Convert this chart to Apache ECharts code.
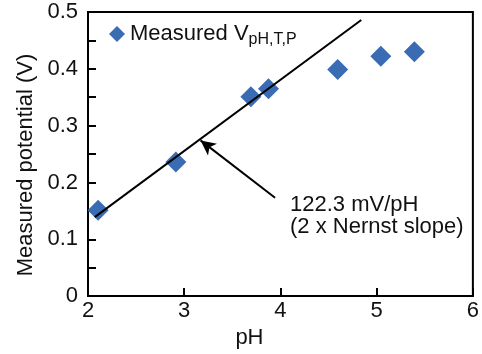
<!DOCTYPE html>
<html>
<head>
<meta charset="utf-8">
<script src="https://cdn.jsdelivr.net/npm/echarts@6/dist/echarts.min.js"></script>
<style>
  html, body { margin: 0; padding: 0; background: #fff; }
  #chart { width: 482px; height: 354px; }
</style>
</head>
<body>
<div id="chart"></div>
<script>
// measured points
const phValues = [2.105, 2.913, 3.693, 3.876, 4.595, 5.043, 5.392];
const potentials = [0.151, 0.236, 0.351, 0.365, 0.399, 0.422, 0.430];

// 122.3 mV/pH line end points
const fitPh = [2.07, 4.84];
const fitV = [0.139, 0.486];

// arrow from label to line
const arrowPh = [3.944, 3.17];
const arrowV = [0.173, 0.274];

const annotationLines = ['122.3 mV/pH', '(2 x Nernst slope)'];

const font = 'Liberation Sans, Arial, sans-serif';
const blue = '#3a6cb4';
const fs = 22;

const chart = echarts.init(document.getElementById('chart'));

const option = {
    animation: false,
    textStyle: { fontFamily: font },
    grid: {
        left: 88, right: 1, top: 12, bottom: 52,
        show: true,
        borderColor: '#000',
        borderWidth: 2
    },
    legend: {
        data: ['Measured'],
        left: 104,
        top: 18,
        icon: 'diamond',
        itemWidth: 16,
        itemHeight: 16,
        itemGap: 6,
        itemStyle: { opacity: 1 },
        formatter: () => '{a|Measured V}{b|pH,T,P}',
        textStyle: {
            rich: {
                a: { fontSize: fs, color: '#111', fontFamily: font },
                b: { fontSize: 16, color: '#111', fontFamily: font, padding: [12, 0, 0, 0] }
            }
        }
    },
    xAxis: {
        type: 'value',
        min: 2, max: 6, interval: 1,
        name: 'pH',
        nameLocation: 'middle',
        nameGap: 25,
        nameTextStyle: { fontSize: fs, color: '#111', padding: [0, 62, 0, 0] },
        axisLine: { lineStyle: { color: '#000', width: 2 } },
        axisTick: { inside: true, length: 8, lineStyle: { color: '#000', width: 2 } },
        axisLabel: { fontSize: fs, color: '#111', margin: 4 },
        splitLine: { show: false }
    },
    yAxis: {
        type: 'value',
        min: 0, max: 0.5, interval: 0.1,
        name: 'Measured potential (V)',
        nameLocation: 'middle',
        nameGap: 48,
        nameTextStyle: { fontSize: fs, color: '#111', padding: [0, 22, 0, 0] },
        axisLine: { lineStyle: { color: '#000', width: 2 } },
        axisTick: { inside: true, length: 8, lineStyle: { color: '#000', width: 2 } },
        minorTick: { show: true, splitNumber: 2, length: 8, lineStyle: { color: '#000', width: 2 } },
        axisLabel: { fontSize: fs, color: '#111', margin: 10 },
        splitLine: { show: false },
        minorSplitLine: { show: false }
    },
    series: [
        {
            name: 'Measured',
            type: 'scatter',
            symbol: 'diamond',
            symbolSize: 21,
            itemStyle: { color: blue, opacity: 1 },
            data: phValues.map((x, i) => [x, potentials[i]]),
            z: 2
        },
        {
            name: 'fit',
            type: 'line',
            symbol: 'none',
            lineStyle: { color: '#000', width: 2 },
            data: fitPh.map((x, i) => [x, fitV[i]]),
            z: 3,
            markLine: {
                silent: true,
                symbol: ['none', 'arrow'],
                symbolSize: [11, 15],
                label: { show: false },
                lineStyle: { color: '#000', width: 2, type: 'solid' },
                data: [[
                    { coord: [arrowPh[0], arrowV[0]] },
                    { coord: [arrowPh[1], arrowV[1]] }
                ]]
            }
        }
    ],
    graphic: [{
        type: 'text',
        left: 290,
        top: 194,
        style: {
            text: annotationLines.join('\n'),
            font: fs + 'px ' + font,
            fill: '#111',
            lineHeight: 22
        }
    }]
};

chart.setOption(option);
</script>
</body>
</html>
